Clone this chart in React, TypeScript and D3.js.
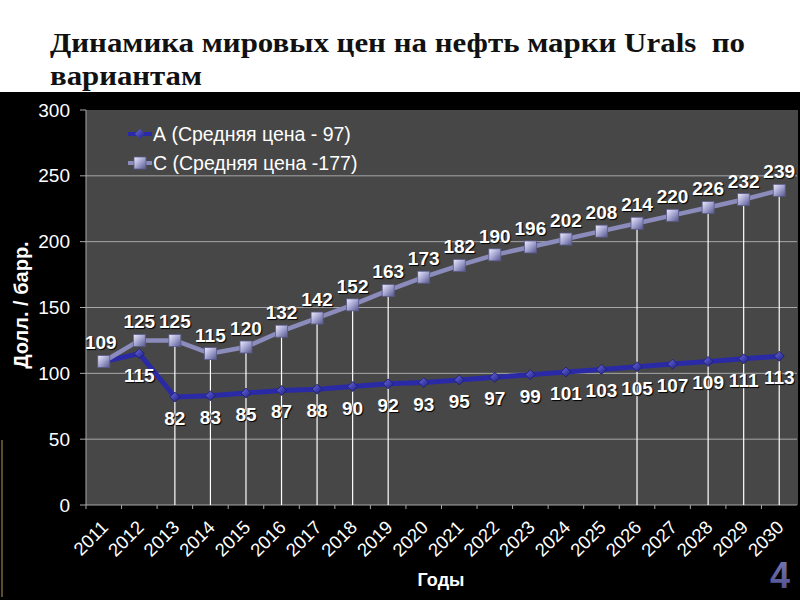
import React from "react";
import * as d3 from "d3";

const years = ["2011","2012","2013","2014","2015","2016","2017","2018","2019","2020","2021","2022","2023","2024","2025","2026","2027","2028","2029","2030"];
const seriesA = [109,115,82,83,85,87,88,90,92,93,95,97,99,101,103,105,107,109,111,113];
const seriesC = [109,125,125,115,120,132,142,152,163,173,182,190,196,202,208,214,220,226,232,239];
const seriesNames = ["А (Средняя цена - 97)", "С (Средняя цена -177)"];
const yTicks = [0,50,100,150,200,250,300];
const dropYears = ["2013","2014","2015","2016","2017","2018","2019","2026","2028","2029","2030"];
const titleLines = ["Динамика мировых цен на нефть марки Urals  по", "вариантам"];
const yTitle = "Долл. / барр.";
const xTitle = "Годы";
const slideNo = "4";

const FONT = "'Liberation Sans', Arial, sans-serif";

export default function App() {
  const W = 800, H = 600;
  const left = 86, right = 797, top = 110, bottom = 505;
  const x = d3.scaleBand<string>().domain(years).range([left, right]);
  const cx = (yr: string) => (x(yr) as number) + x.bandwidth() / 2;
  const y = d3.scaleLinear().domain([0, 300]).range([bottom, top]);
  const line = d3.line<number>().x((_, i) => cx(years[i])).y((d) => y(d));
  const shadow = { textShadow: "1px 1px 1px #000" } as React.CSSProperties;

  return (
    <svg width={W} height={H} style={{ position: "absolute", left: 0, top: 0, display: "block" }}>
      <defs>
        <linearGradient id="sqC" x1="0" y1="0" x2="1" y2="1">
          <stop offset="0" stopColor="#eeeeff" />
          <stop offset="0.5" stopColor="#a4a4d0" />
          <stop offset="1" stopColor="#55558a" />
        </linearGradient>
        <linearGradient id="dmA" x1="0" y1="0" x2="1" y2="1">
          <stop offset="0" stopColor="#6a6ae0" />
          <stop offset="1" stopColor="#1c1c80" />
        </linearGradient>
        <linearGradient id="num4" x1="0" y1="0" x2="0" y2="1">
          <stop offset="0" stopColor="#7a7ab8" />
          <stop offset="1" stopColor="#4a4a8a" />
        </linearGradient>
      </defs>
      <rect x={0} y={0} width={W} height={H} fill="#ffffff" />
      {titleLines.map((t, i) => (
        <text key={i} x={50} y={52 + i * 33} fontFamily="'Liberation Serif', 'Times New Roman', serif" fontWeight="bold" fontSize={27}
          fill="#111" textLength={i === 0 ? 695 : 152} lengthAdjust="spacingAndGlyphs" style={{ whiteSpace: "pre" }}>{t}</text>
      ))}
      <rect x={0} y={92} width={W} height={H - 92} fill="#000" />
      <line x1={2} x2={2} y1={440} y2={597} stroke="#5a4c2a" strokeWidth={2} />
      {/* plot area */}
      <rect x={left} y={top} width={right - left + 1} height={bottom - top} fill="#474747" />
      {yTicks.map((t) => (
        <g key={t}>
          {t > 0 && t < 300 && <line x1={left} x2={right} y1={y(t)} y2={y(t)} stroke="#a8a8a8" strokeWidth={1} />}
          <line x1={left - 6} x2={left} y1={y(t)} y2={y(t)} stroke="#a8a8a8" />
          <text x={70} y={y(t)} dy="0.35em" textAnchor="end" fontFamily={FONT} fontSize={19} fill="#fff">{t}</text>
        </g>
      ))}
      <line x1={left} x2={left} y1={top} y2={bottom} stroke="#a8a8a8" />
      <line x1={left} x2={right} y1={bottom} y2={bottom} stroke="#a8a8a8" />
      {years.map((yr, i) => (
        <line key={"xt" + i} x1={x(yr) as number} x2={x(yr) as number} y1={bottom} y2={bottom + 4} stroke="#a8a8a8" />
      ))}
      {/* drop lines */}
      {dropYears.map((yr) => (
        <line key={"dl" + yr} x1={cx(yr)} x2={cx(yr)} y1={y(seriesC[years.indexOf(yr)])} y2={bottom} stroke="#ffffff" strokeWidth={1.2} />
      ))}
      {/* series A */}
      <path d={line(seriesA) || ""} fill="none" stroke="#2a2aa6" strokeWidth={5} strokeLinejoin="round" />
      {seriesA.map((v, i) => {
        const px = cx(years[i]), py = y(v);
        return <path key={"ma" + i} d={`M${px},${py - 5}L${px + 5},${py}L${px},${py + 5}L${px - 5},${py}Z`} fill="url(#dmA)" stroke="#1a1a70" strokeWidth={0.8} />;
      })}
      {/* series C */}
      <path d={line(seriesC) || ""} fill="none" stroke="#8c8cbc" strokeWidth={4.5} strokeLinejoin="round" />
      {seriesC.map((v, i) => {
        const px = cx(years[i]), py = y(v);
        return <rect key={"mc" + i} x={px - 6} y={py - 6} width={12} height={12} fill="url(#sqC)" stroke="#5a5a8c" strokeWidth={0.8} />;
      })}
      {/* labels */}
      {seriesC.map((v, i) => (
        <text key={"lc" + i} x={cx(years[i]) - (i === 0 ? 3 : 0)} y={y(v) - 12} textAnchor="middle" fontFamily={FONT} fontWeight="bold" fontSize={19} fill="#fff" style={shadow}>{v}</text>
      ))}
      {seriesA.map((v, i) => i === 0 ? null : (
        <text key={"la" + i} x={cx(years[i])} y={y(v) + 28} textAnchor="middle" fontFamily={FONT} fontWeight="bold" fontSize={19} fill="#fff" style={shadow}>{v}</text>
      ))}
      {/* legend */}
      <line x1={128} x2={152} y1={134} y2={134} stroke="#2a2aa6" strokeWidth={4} />
      <path d="M140,129L145,134L140,139L135,134Z" fill="url(#dmA)" />
      <text x={153} y={134} dy="0.35em" fontFamily={FONT} fontSize={19.5} fill="#fff">{seriesNames[0]}</text>
      <line x1={128} x2={152} y1={163} y2={163} stroke="#8c8cbc" strokeWidth={4} />
      <rect x={134} y={157} width={12} height={12} fill="url(#sqC)" stroke="#5a5a8c" strokeWidth={0.8} />
      <text x={153} y={163} dy="0.35em" fontFamily={FONT} fontSize={19.5} fill="#fff">{seriesNames[1]}</text>
      {/* x tick labels */}
      {years.map((yr) => (
        <text key={"xl" + yr} transform={`translate(${cx(yr) + 1},${bottom + 19}) rotate(-45)`} textAnchor="end" dy="0.35em" fontFamily={FONT} fontSize={18.5} fill="#fff">{yr}</text>
      ))}
      {/* axis titles */}
      <text transform="translate(28,305) rotate(-90)" textAnchor="middle" fontFamily={FONT} fontWeight="bold" fontSize={20} fill="#fff">{yTitle}</text>
      <text x={441} y={586} textAnchor="middle" fontFamily={FONT} fontWeight="bold" fontSize={18} fill="#fff">{xTitle}</text>
      <text x={780} y={588} textAnchor="middle" fontFamily={FONT} fontWeight="bold" fontSize={36} fill="url(#num4)">{slideNo}</text>
    </svg>
  );
}
